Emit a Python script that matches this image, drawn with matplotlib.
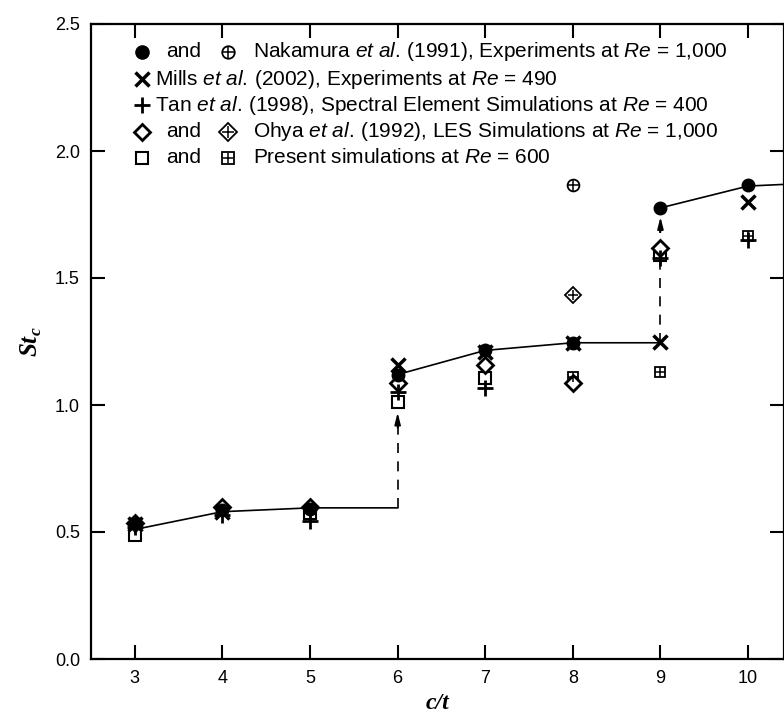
import matplotlib
matplotlib.use('Agg')
import matplotlib.pyplot as plt

# 폰트 설정
plt.rcParams['font.family'] = ['Liberation Sans', 'DejaVu Sans']
plt.rcParams['mathtext.fontset'] = 'custom'
plt.rcParams['mathtext.rm'] = 'Liberation Sans'
plt.rcParams['mathtext.it'] = 'Liberation Sans:italic'
plt.rcParams['mathtext.bf'] = 'Liberation Serif:bold:italic'

# 데이터
ct = [3, 4, 5, 6, 7, 8, 9, 10]
nak_y = [0.535, 0.585, 0.59, 1.12, 1.215, 1.245, 1.776, 1.866]
nak_cross_x = [8]
nak_cross_y = [1.866]
mills_x = [3, 4, 6, 7, 8, 9, 10]
mills_y = [0.53, 0.58, 1.157, 1.21, 1.245, 1.248, 1.80]
tan_x = [3, 4, 5, 6, 7, 9, 10]
tan_y = [0.52, 0.565, 0.545, 1.05, 1.067, 1.58, 1.65]
ohya_x = [3, 4, 5, 6, 7, 8, 9]
ohya_y = [0.535, 0.60, 0.60, 1.085, 1.157, 1.085, 1.62]
ohya_cross_x = [8]
ohya_cross_y = [1.433]
pres_x = [3, 5, 6, 7, 9]
pres_y = [0.49, 0.575, 1.01, 1.105, 1.59]
pres_cross_x = [8, 9, 10]
pres_cross_y = [1.11, 1.13, 1.665]

curve1_x = [3, 4, 5, 6]
curve1_y = [0.51, 0.58, 0.595, 0.595]
curve2_x = [6, 7, 8, 9]
curve2_y = [1.12, 1.215, 1.245, 1.245]
curve3_x = [9, 10, 10.5]
curve3_y = [1.776, 1.862, 1.87]

jump_x = [6, 9]
jump_from = [0.595, 1.245]
jump_to = [0.97, 1.74]

legend_labels = [
    r'Nakamura $\mathit{et\ al.}\,$(1991), Experiments at $\mathit{Re}$ = 1,000',
    r'Mills $\mathit{et\ al.}\,$(2002), Experiments at $\mathit{Re}$ = 490',
    r'Tan $\mathit{et\ al.}\,$(1998), Spectral Element Simulations at $\mathit{Re}$ = 400',
    r'Ohya $\mathit{et\ al.}\,$(1992), LES Simulations at $\mathit{Re}$ = 1,000',
    r'Present simulations at $\mathit{Re}$ = 600',
]

fig = plt.figure(figsize=(7.84, 7.18), dpi=100)
ax = fig.add_axes([91/784, 1-659/718, 1-91/784, (659-24)/718])

lw = 1.2
for cx, cy in [(curve1_x, curve1_y), (curve2_x, curve2_y), (curve3_x, curve3_y)]:
    ax.plot(cx, cy, color='black', lw=lw, zorder=2)

for x, y0, y1 in zip(jump_x, jump_from, jump_to):
    ax.plot([x, x], [y0, y1 - 0.04], color='black', lw=lw, dashes=(6, 5), zorder=2)
    ax.annotate('', xy=(x, y1), xytext=(x, y1 - 0.06),
                arrowprops=dict(arrowstyle='-|>,head_length=0.7,head_width=0.18',
                                color='black', lw=lw, shrinkA=0, shrinkB=0))

def crossed(x, y, m, ms, **kw):
    ax.plot(x, y, ls='none', marker=m, ms=ms, mfc='white', mec='black', mew=1.3, zorder=3, **kw)
    ax.plot(x, y, ls='none', marker='+', ms=ms * 0.95, mec='black', mew=1.1, zorder=4, **kw)

def hollow(x, y, m, ms, mew, **kw):
    ax.plot(x, y, ls='none', marker=m, ms=ms, mfc='white', mec='black', mew=mew, zorder=3, **kw)

hollow(pres_x, pres_y, 's', 8, 1.5)
crossed(pres_cross_x, pres_cross_y, 's', 7.5)
hollow(ohya_x, ohya_y, 'D', 8, 2)
crossed(ohya_cross_x, ohya_cross_y, 'D', 8)
ax.plot(tan_x, tan_y, ls='none', marker='+', ms=12, mec='black', mew=2, zorder=4)
ax.plot(mills_x, mills_y, ls='none', marker='x', ms=10, mec='black', mew=2.5, zorder=4)
ax.plot(ct, nak_y, ls='none', marker='o', ms=9, mfc='black', mec='black', zorder=5)
crossed(nak_cross_x, nak_cross_y, 'o', 8.5)

ax.set_xlim(2.5, 10.41)
ax.set_ylim(0, 2.5)
ax.set_xticks(ct)
ax.set_yticks([0, 0.5, 1.0, 1.5, 2.0, 2.5])
ax.set_yticklabels(['0.0', '0.5', '1.0', '1.5', '2.0', '2.5'])
ax.tick_params(direction='in', length=10, width=1.5, top=True, right=True,
               labelsize=13, pad=8)
for sp in ax.spines.values():
    sp.set_linewidth(1.6)

ax.set_xlabel('c/t', fontsize=17, fontfamily='Liberation Serif', fontstyle='italic',
              fontweight='bold', labelpad=4)
ax.set_ylabel(r'$\mathbf{St}_{\mathbf{c}}$', fontsize=18, labelpad=8)

# 범례 (직접 그림)
rows = [0.956, 0.913, 0.872, 0.830, 0.789]
mx, andx, m2x, tx, tx2 = 0.0736, 0.108, 0.198, 0.234, 0.093
tr = dict(transform=ax.transAxes, clip_on=False)
fs = 15
ax.plot(mx, rows[0], marker='o', ms=9.5, mfc='black', mec='black', **tr)
crossed([m2x], [rows[0]], 'o', 9, **tr)
ax.plot(mx, rows[1], marker='x', ms=10, mec='black', mew=2.5, **tr)
ax.plot(mx, rows[2], marker='+', ms=12, mec='black', mew=2, **tr)
hollow(mx, rows[3], 'D', 8.5, 2, **tr)
crossed([m2x], [rows[3]], 'D', 9, **tr)
hollow(mx, rows[4], 's', 8, 1.5, **tr)
crossed([m2x], [rows[4]], 's', 8, **tr)

for r in [0, 3, 4]:
    ax.text(andx, rows[r], 'and', transform=ax.transAxes, fontsize=fs, va='center')
for i, lab in enumerate(legend_labels):
    ax.text(tx if i in (0, 3, 4) else tx2, rows[i], lab, transform=ax.transAxes,
            fontsize=fs, va='center')

fig.savefig('out.png', dpi=100)
